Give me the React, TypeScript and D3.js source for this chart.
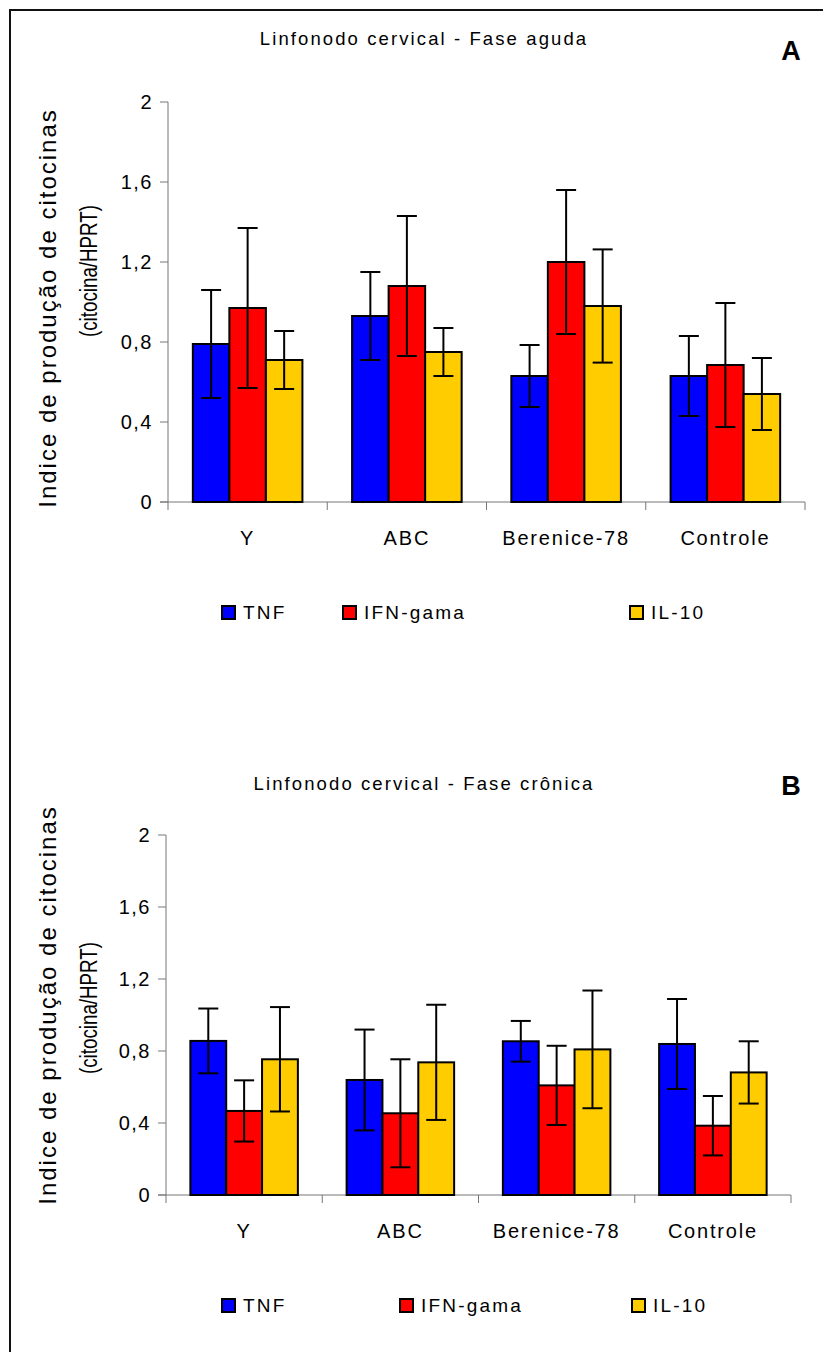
import { useEffect } from 'react'
import * as d3 from 'd3'

const W = 823, H = 1352
const FONT = '"Liberation Sans", Arial, sans-serif'

const CATEGORIES = ['Y', 'ABC', 'Berenice-78', 'Controle']
const SERIES = ['TNF', 'IFN-gama', 'IL-10']
const COLORS = ['#0000ff', '#ff0000', '#ffcc00']
const Y_TICKS = [0, 0.4, 0.8, 1.2, 1.6, 2]

// Fase aguda (A)
const ACUTE_TNF = [0.79, 0.93, 0.63, 0.63]
const ACUTE_TNF_ERR = [0.27, 0.22, 0.155, 0.2]
const ACUTE_IFN = [0.97, 1.08, 1.2, 0.685]
const ACUTE_IFN_ERR = [0.4, 0.35, 0.36, 0.31]
const ACUTE_IL10 = [0.71, 0.75, 0.98, 0.54]
const ACUTE_IL10_ERR = [0.145, 0.12, 0.283, 0.18]

// Fase crônica (B)
const CHRONIC_TNF = [0.856, 0.639, 0.854, 0.839]
const CHRONIC_TNF_ERR = [0.18, 0.28, 0.113, 0.25]
const CHRONIC_IFN = [0.467, 0.454, 0.609, 0.385]
const CHRONIC_IFN_ERR = [0.17, 0.3, 0.22, 0.165]
const CHRONIC_IL10 = [0.754, 0.737, 0.809, 0.681]
const CHRONIC_IL10_ERR = [0.29, 0.32, 0.327, 0.173]

const PANELS = [
  {
    title: 'Linfonodo cervical - Fase aguda', tag: 'A',
    values: [ACUTE_TNF, ACUTE_IFN, ACUTE_IL10],
    errors: [ACUTE_TNF_ERR, ACUTE_IFN_ERR, ACUTE_IL10_ERR],
    left: 168, right: 805, top: 102, bottom: 502,
    titleY: 44.5, tagY: 60, label1Y: 308, label2Y: 271,
    legendX: [222, 343, 630],
  },
  {
    title: 'Linfonodo cervical - Fase crônica', tag: 'B',
    values: [CHRONIC_TNF, CHRONIC_IFN, CHRONIC_IL10],
    errors: [CHRONIC_TNF_ERR, CHRONIC_IFN_ERR, CHRONIC_IL10_ERR],
    left: 166, right: 791, top: 835, bottom: 1195,
    titleY: 790, tagY: 795, label1Y: 1005, label2Y: 1008,
    legendX: [222, 400, 632],
  },
]

const fmt = (v: number) => String(v).replace('.', ',')

function Panel({ p }: { p: typeof PANELS[number] }) {
  const y = d3.scaleLinear([0, 2], [p.bottom, p.top])
  const x0 = d3.scaleBand(CATEGORIES, [p.left, p.right])
  const x1 = d3.scaleBand(SERIES, [0, x0.bandwidth()]).paddingOuter(0.68)
  const bw = x1.bandwidth()
  const bounds = [...CATEGORIES.map(c => x0(c)!), p.right]

  return (
    <g fontFamily={FONT}>
      <text x={424} y={p.titleY} fontSize={18.5} letterSpacing={2.1} textAnchor="middle">{p.title}</text>
      <text x={791} y={p.tagY} fontSize={27} fontWeight="bold" textAnchor="middle">{p.tag}</text>

      <text transform={`translate(56,${p.label1Y}) rotate(-90)`} fontSize={24} letterSpacing={2} textAnchor="middle">
        Indice de produção de citocinas
      </text>
      <text transform={`translate(97,${p.label2Y}) rotate(-90)`} fontSize={23} textAnchor="middle"
        textLength={132} lengthAdjust="spacingAndGlyphs">
        (citocina/HPRT)
      </text>

      {/* axes */}
      <line x1={p.left} x2={p.left} y1={p.top} y2={p.bottom} stroke="#777" />
      <line x1={p.left - 8} x2={p.right} y1={p.bottom} y2={p.bottom} stroke="#777" />
      {Y_TICKS.map(t => (
        <g key={t}>
          <line x1={p.left - 8} x2={p.left} y1={y(t)} y2={y(t)} stroke="#777" />
          <text x={p.left - 15} y={y(t)} dy="0.35em" fontSize={20} letterSpacing={1.5} textAnchor="end">{fmt(t)}</text>
        </g>
      ))}
      {bounds.map((bx, i) => (
        <line key={i} x1={bx} x2={bx} y1={p.bottom} y2={p.bottom + 8} stroke="#777" />
      ))}
      {CATEGORIES.map(c => (
        <text key={c} x={x0(c)! + x0.bandwidth() / 2} y={p.bottom + 43} fontSize={20} letterSpacing={1.8} textAnchor="middle">{c}</text>
      ))}

      {/* bars */}
      {SERIES.map((s, si) => CATEGORIES.map((c, ci) => {
        const v = p.values[si][ci]
        return (
          <rect key={s + c} x={x0(c)! + x1(s)!} y={y(v)} width={bw} height={p.bottom - y(v)}
            fill={COLORS[si]} stroke="#000" strokeWidth={2} />
        )
      }))}
      {/* error bars */}
      {SERIES.map((s, si) => CATEGORIES.map((c, ci) => {
        const v = p.values[si][ci], e = p.errors[si][ci]
        const cx = x0(c)! + x1(s)! + bw / 2
        return (
          <g key={s + c} stroke="#000" strokeWidth={2}>
            <line x1={cx} x2={cx} y1={y(v + e)} y2={y(v - e)} />
            <line x1={cx - 10} x2={cx + 10} y1={y(v + e)} y2={y(v + e)} />
            <line x1={cx - 10} x2={cx + 10} y1={y(v - e)} y2={y(v - e)} />
          </g>
        )
      }))}

      {/* legend */}
      {SERIES.map((s, si) => (
        <g key={s}>
          <rect x={p.legendX[si]} y={p.bottom + 104} width={13} height={13} fill={COLORS[si]} stroke="#000" strokeWidth={2} />
          <text x={p.legendX[si] + 21} y={p.bottom + 117} fontSize={19} letterSpacing={2.2}>{s}</text>
        </g>
      ))}
    </g>
  )
}

export default function App() {
  useEffect(() => { document.body.style.margin = '0' }, [])
  return (
    <svg width={W} height={H} viewBox={`0 0 ${W} ${H}`} style={{ display: 'block', background: '#fff' }}>
      <rect x={10} y={10} width={840} height={1380} fill="none" stroke="#111" strokeWidth={2} />
      {PANELS.map(p => <Panel key={p.tag} p={p} />)}
    </svg>
  )
}
